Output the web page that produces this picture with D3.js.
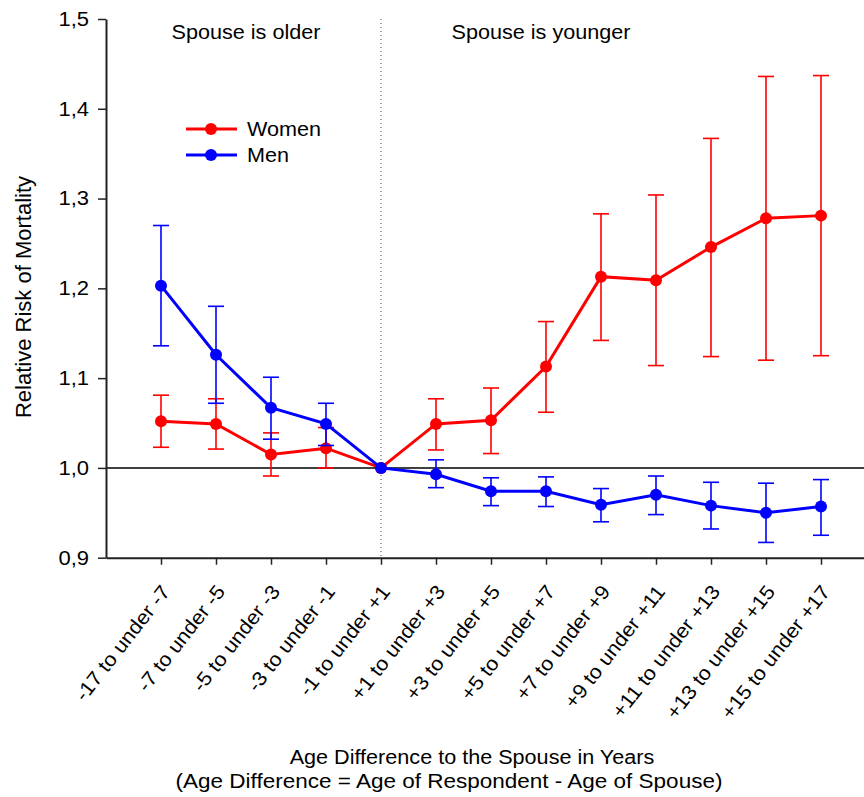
<!DOCTYPE html>
<head>
  <meta charset="utf-8">
  <script src="https://d3js.org/d3.v7.min.js"></script>
  <style>
    body { margin:0; background:#fff; }
    text { font-family: "Liberation Sans", Arial, sans-serif; fill:#000; }
  </style>
</head>
<body>
<script>
// age difference groups
var categories = ["-17 to under -7", "-7 to under -5", "-5 to under -3", "-3 to under -1",
  "-1 to under +1", "+1 to under +3", "+3 to under +5", "+5 to under +7", "+7 to under +9",
  "+9 to under +11", "+11 to under +13", "+13 to under +15", "+15 to under +17"]

// relative risk + confidence bounds (reference group has none)
var women     = [1.052, 1.049, 1.015, 1.022, 1.0, 1.049, 1.053, 1.113, 1.213, 1.209, 1.246, 1.278, 1.281]
var womenLow  = [1.023, 1.021, 0.991, 1.000, null, 1.020, 1.016, 1.062, 1.142, 1.114, 1.124, 1.120, 1.125]
var womenHigh = [1.081, 1.077, 1.039, 1.045, null, 1.077, 1.089, 1.163, 1.283, 1.304, 1.367, 1.436, 1.437]

var men     = [1.203, 1.126, 1.067, 1.049, 1.0, 0.993, 0.974, 0.974, 0.959, 0.970, 0.958, 0.950, 0.957]
var menLow  = [1.136, 1.072, 1.032, 1.025, null, 0.978, 0.958, 0.957, 0.940, 0.948, 0.932, 0.917, 0.925]
var menHigh = [1.270, 1.180, 1.101, 1.072, null, 1.009, 0.989, 0.990, 0.977, 0.991, 0.984, 0.983, 0.987]

var yTicks = [0.9, 1.0, 1.1, 1.2, 1.3, 1.4, 1.5]

var width = 864, height = 797

var svg = d3.select("body").append("svg")
  .attr("width", width)
  .attr("height", height)

var x = d3.scalePoint().domain(categories).range([106, 876]).padding(1)
var y = d3.scaleLinear().domain([0.9, 1.5]).range([557.7, 19])

// the original font runs a bit wider than Liberation Sans
function widen(sel, f){
  sel.each(function(){
    var L = this.getComputedTextLength()
    d3.select(this).attr("textLength", L * f).attr("lengthAdjust", "spacingAndGlyphs")
  })
}

// reference line at 1.0 and divider between older / younger
svg.append("line")
  .attr("x1", 106).attr("x2", width)
  .attr("y1", y(1)).attr("y2", y(1))
  .attr("stroke", "#000").attr("stroke-width", 1.5)

svg.append("line")
  .attr("x1", x(categories[4])).attr("x2", x(categories[4]))
  .attr("y1", y(1.5)).attr("y2", y(0.9))
  .attr("stroke", "#444").attr("stroke-width", 1)
  .attr("stroke-dasharray", "1,3")

// axes
var yAxis = svg.append("g")
  .attr("transform", "translate(106,0)")
  .call(d3.axisLeft(y).tickValues(yTicks).tickSize(8).tickSizeOuter(0).tickPadding(9)
    .tickFormat(function(d){ return d.toFixed(1).replace(".", ",") }))
yAxis.selectAll("text").attr("font-size", 20).attr("font-family", null).call(widen, 1.1)
yAxis.select(".domain").attr("stroke", "#222").attr("stroke-width", 2)
yAxis.selectAll(".tick line").attr("stroke", "#222").attr("stroke-width", 1.5)

var xAxis = svg.append("g")
  .attr("transform", "translate(0," + y(0.9) + ")")
  .call(d3.axisBottom(x).tickSize(7).tickSizeOuter(0).tickFormat(""))
xAxis.select(".domain").attr("stroke", "#222").attr("stroke-width", 2)
xAxis.selectAll(".tick line").attr("stroke", "#222").attr("stroke-width", 1.5)

svg.selectAll(".xlab")
  .data(categories)
  .join("text")
  .attr("class", "xlab")
  .attr("text-anchor", "end")
  .attr("font-size", 20)
  .attr("transform", function(d){ return "translate(" + (x(d) + 10) + ",592) rotate(-52)" })
  .text(function(d){ return d })
  .call(widen, 1.07)

// series
function drawSeries(vals, lo, hi, color){
  var g = svg.append("g")
  var idx = d3.range(vals.length).filter(function(i){ return lo[i] != null })

  g.selectAll(".bar").data(idx).join("line")
    .attr("x1", function(i){ return x(categories[i]) })
    .attr("x2", function(i){ return x(categories[i]) })
    .attr("y1", function(i){ return y(lo[i]) })
    .attr("y2", function(i){ return y(hi[i]) })
    .attr("stroke", color).attr("stroke-width", 1.6)

  ;[lo, hi].forEach(function(arr){
    g.selectAll(null).data(idx).join("line")
      .attr("x1", function(i){ return x(categories[i]) - 8 })
      .attr("x2", function(i){ return x(categories[i]) + 8 })
      .attr("y1", function(i){ return y(arr[i]) })
      .attr("y2", function(i){ return y(arr[i]) })
      .attr("stroke", color).attr("stroke-width", 1.6)
  })

  var line = d3.line()
    .x(function(d, i){ return x(categories[i]) })
    .y(function(d){ return y(d) })

  g.append("path").datum(vals)
    .attr("d", line)
    .attr("fill", "none")
    .attr("stroke", color)
    .attr("stroke-width", 3)

  g.selectAll("circle").data(vals).join("circle")
    .attr("cx", function(d, i){ return x(categories[i]) })
    .attr("cy", function(d){ return y(d) })
    .attr("r", 6)
    .attr("fill", color)
}

drawSeries(women, womenLow, womenHigh, "#ff0000")
drawSeries(men, menLow, menHigh, "#0000ff")

// legend
var legend = [{name: "Women", color: "#ff0000", y: 129}, {name: "Men", color: "#0000ff", y: 155}]
var lg = svg.selectAll(".leg").data(legend).join("g").attr("class", "leg")
lg.append("line")
  .attr("x1", 186).attr("x2", 237)
  .attr("y1", function(d){ return d.y }).attr("y2", function(d){ return d.y })
  .attr("stroke", function(d){ return d.color }).attr("stroke-width", 3)
lg.append("circle")
  .attr("cx", 211).attr("cy", function(d){ return d.y }).attr("r", 6)
  .attr("fill", function(d){ return d.color })
lg.append("text")
  .attr("x", 247).attr("y", function(d){ return d.y + 7 })
  .attr("font-size", 20)
  .text(function(d){ return d.name })
  .call(widen, 1.08)

// annotations and titles
svg.append("text").attr("x", 246).attr("y", 39).attr("text-anchor", "middle")
  .attr("font-size", 20).text("Spouse is older").call(widen, 1.08)
svg.append("text").attr("x", 541).attr("y", 39).attr("text-anchor", "middle")
  .attr("font-size", 20).text("Spouse is younger").call(widen, 1.08)

svg.append("text")
  .attr("transform", "translate(31,297) rotate(-90)")
  .attr("text-anchor", "middle")
  .attr("font-size", 22)
  .text("Relative Risk of Mortality")

svg.append("text").attr("x", 472).attr("y", 764).attr("text-anchor", "middle")
  .attr("font-size", 20).text("Age Difference to the Spouse in Years").call(widen, 1.08)
svg.append("text").attr("x", 449).attr("y", 788).attr("text-anchor", "middle")
  .attr("font-size", 20).text("(Age Difference = Age of Respondent - Age of Spouse)").call(widen, 1.125)
</script>
</body>
